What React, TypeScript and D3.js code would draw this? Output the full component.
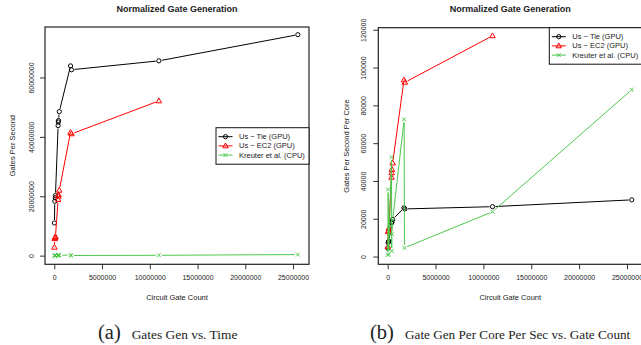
import React, { useRef, useEffect } from "react";
import * as d3 from "d3";

// circuit gate counts (x values)
const gatesTie = [15000, 50000, 100000, 120000, 400000, 420000, 440000, 520000, 1700000, 1800000, 10950000, 25500000];
const gatesEc2 = [15000, 50000, 100000, 120000, 400000, 420000, 440000, 520000, 1700000, 1800000, 10950000];
const gatesKreuter = [15000, 50000, 100000, 120000, 400000, 420000, 440000, 520000, 1720000, 1750000, 10950000, 25500000];

// (a) gates per second
const tieRate = [11000000, 18300000, 19500000, 20200000, 43800000, 45000000, 45500000, 48500000, 63900000, 62600000, 65600000, 74400000];
const ec2Rate = [2800000, 5700000, 6100000, 6400000, 18900000, 20000000, 20500000, 22000000, 41500000, 41000000, 52100000];
const kreuterRate = [6400, 184000, 10400, 34400, 220000, 24000, 95200, 124400, 180800, 36800, 119600, 350000];

// (b) gates per second per core
const tiePerCore = [4400, 7400, 7900, 8100, 17700, 18100, 18300, 19600, 25800, 25200, 26400, 30000];
const ec2PerCore = [5200, 13100, 13700, 14900, 41900, 44300, 46000, 49500, 93400, 92200, 116800];
const kreuterPerCore = [800, 35500, 1300, 4300, 52500, 3000, 11900, 19300, 72600, 4600, 23700, 88300];

const seriesNames = ["Us \u2212 Tie (GPU)", "Us \u2212 EC2 (GPU)", "Kreuter et al. (CPU)"];
const seriesColors = ["#000000", "#ff0000", "#4cc84c"];
const seriesShapes = ["circle", "triangle", "cross"];

const xTicks = [0, 5000000, 10000000, 15000000, 20000000, 25000000];
const yTicksA = [0, 20000000, 40000000, 60000000];
const yTicksB = [0, 20000, 40000, 60000, 80000, 100000, 120000];

const FONT = "'Liberation Sans', Arial, Helvetica, sans-serif";
const SERIF = "'Liberation Serif', 'Times New Roman', serif";

function drawMarker(g, shape, x, y, color) {
  if (shape === "circle") {
    g.append("circle").attr("cx", x).attr("cy", y).attr("r", 2.1)
      .attr("fill", "none").attr("stroke", color).attr("stroke-width", 1);
  } else if (shape === "triangle") {
    const r = 2.9;
    g.append("path")
      .attr("d", `M${x},${y - r}L${x + r * 0.95},${y + r * 0.65}L${x - r * 0.95},${y + r * 0.65}Z`)
      .attr("fill", "none").attr("stroke", color).attr("stroke-width", 1);
  } else {
    const r = 1.9;
    g.append("path")
      .attr("d", `M${x - r},${y - r}L${x + r},${y + r}M${x - r},${y + r}L${x + r},${y - r}`)
      .attr("stroke", color).attr("stroke-width", 1);
  }
}

function Panel({ left, xDomain, xRange, yDomain, yRange, yTicks, yLabel, yLabelX, yTickX, series, legend }) {
  const ref = useRef(null);

  useEffect(() => {
    const g = d3.select(ref.current);
    g.selectAll("*").remove();

    const x = d3.scaleLinear().domain(xDomain).range(xRange);
    const y = d3.scaleLinear().domain(yDomain).range(yRange);
    const fmt = d3.format("d");
    const midX = left + 177 - 45;

    // title
    g.append("text").attr("x", midX).attr("y", 12).attr("text-anchor", "middle")
      .attr("font-family", FONT).attr("font-weight", "bold").attr("font-size", 9)
      .attr("fill", "#222").text("Normalized Gate Generation");

    // x axis
    const xa = g.append("g").attr("transform", `translate(0,${yRange[0]})`)
      .call(d3.axisBottom(x).tickValues(xTicks).tickSize(5).tickSizeOuter(0).tickFormat(fmt));
    xa.select(".domain").remove();
    xa.selectAll("line").attr("stroke", "#333");
    xa.selectAll("text").attr("font-family", FONT).attr("font-size", 7).attr("fill", "#222")
      .attr("y", 10.5);

    // y axis
    const ya = g.append("g").attr("transform", `translate(${xRange[0]},0)`)
      .call(d3.axisLeft(y).tickValues(yTicks).tickSize(5).tickSizeOuter(0).tickFormat(fmt));
    ya.select(".domain").remove();
    ya.selectAll("line").attr("stroke", "#333");
    ya.selectAll("text").attr("font-family", FONT).attr("font-size", 7).attr("fill", "#222")
      .attr("x", null).attr("dy", null)
      .attr("text-anchor", "middle").attr("dominant-baseline", "central")
      .attr("transform", `translate(${yTickX - xRange[0]},0) rotate(-90)`);

    // axis labels
    g.append("text").attr("x", midX).attr("y", 299.5).attr("text-anchor", "middle")
      .attr("font-family", FONT).attr("font-size", 7.5).attr("fill", "#222").text("Circuit Gate Count");
    g.append("text").attr("transform", `translate(${yLabelX},${(yRange[0] + yRange[1]) / 2}) rotate(-90)`)
      .attr("text-anchor", "middle").attr("dominant-baseline", "central")
      .attr("font-family", FONT).attr("font-size", 7.5).attr("fill", "#222").text(yLabel);

    // series, drawn R type="b" style (gaps at the points)
    const gap = 3;
    series.forEach((s, si) => {
      const pts = s.xs.map((xv, i) => [x(xv), y(s.ys[i])]);
      const sg = g.append("g");
      for (let i = 0; i < pts.length - 1; i++) {
        const [x0, y0] = pts[i];
        const [x1, y1] = pts[i + 1];
        const len = Math.hypot(x1 - x0, y1 - y0);
        if (len <= gap * 2) continue;
        const ux = (x1 - x0) / len, uy = (y1 - y0) / len;
        sg.append("line")
          .attr("x1", x0 + ux * gap).attr("y1", y0 + uy * gap)
          .attr("x2", x1 - ux * gap).attr("y2", y1 - uy * gap)
          .attr("stroke", seriesColors[si]).attr("stroke-width", 1);
      }
      pts.forEach(([px, py]) => drawMarker(sg, seriesShapes[si], px, py, seriesColors[si]));
    });

    // plot box
    g.append("rect").attr("x", xRange[0]).attr("y", yRange[1])
      .attr("width", xRange[1] - xRange[0]).attr("height", yRange[0] - yRange[1])
      .attr("fill", "none").attr("stroke", "#222").attr("stroke-width", 1.2);

    // legend
    const lg = g.append("g");
    lg.append("rect").attr("x", legend.x).attr("y", legend.y).attr("width", legend.w).attr("height", 36.5)
      .attr("fill", "white").attr("stroke", "#111").attr("stroke-width", 1);
    seriesNames.forEach((name, i) => {
      const ly = legend.y + 9 + i * 9.2;
      lg.append("line").attr("x1", legend.x + 2.5).attr("x2", legend.x + 16.5).attr("y1", ly).attr("y2", ly)
        .attr("stroke", seriesColors[i]).attr("stroke-width", 1);
      drawMarker(lg, seriesShapes[i], legend.x + 9.5, ly, seriesColors[i]);
      lg.append("text").attr("x", legend.x + 23).attr("y", ly).attr("dominant-baseline", "central")
        .attr("font-family", FONT).attr("font-size", 7.5).attr("fill", "#222").text(name);
    });
  }, []);

  return <g ref={ref} />;
}

export default function App() {
  return (
    <svg width={641} height={345} style={{ position: "absolute", left: 0, top: 0, background: "white" }}>
      <Panel
        left={45}
        xDomain={[-974000, 26670000]}
        xRange={[45, 309]}
        yDomain={[-2920000, 77000000]}
        yRange={[264.3, 27]}
        yTicks={yTicksA}
        yLabel="Gates Per Second"
        yLabelX={12.3}
        yTickX={31.7}
        legend={{ x: 216, y: 127.7, w: 93 }}
        series={[
          { xs: gatesTie, ys: tieRate },
          { xs: gatesEc2, ys: ec2Rate },
          { xs: gatesKreuter, ys: kreuterRate },
        ]}
      />
      <Panel
        left={378.3}
        xDomain={[-980000, 26570000]}
        xRange={[378.3, 642]}
        yDomain={[-4100, 121100]}
        yRange={[264.3, 27.7]}
        yTicks={yTicksB}
        yLabel="Gates Per Second Per Core"
        yLabelX={346.7}
        yTickX={363.3}
        legend={{ x: 549.3, y: 27.7, w: 93 }}
        series={[
          { xs: gatesTie, ys: tiePerCore },
          { xs: gatesEc2, ys: ec2PerCore },
          { xs: gatesKreuter, ys: kreuterPerCore },
        ]}
      />
      <text x={98} y={338.5} fontFamily={SERIF} fontSize={20.5} fill="#222">(a)</text>
      <text x={131.7} y={338.5} fontFamily={SERIF} fontSize={13.4} fill="#222">Gates Gen vs. Time</text>
      <text x={370} y={338.5} fontFamily={SERIF} fontSize={20.5} fill="#222">(b)</text>
      <text x={405} y={338.5} fontFamily={SERIF} fontSize={13.2} fill="#222">Gate Gen Per Core Per Sec vs. Gate Count</text>
    </svg>
  );
}
